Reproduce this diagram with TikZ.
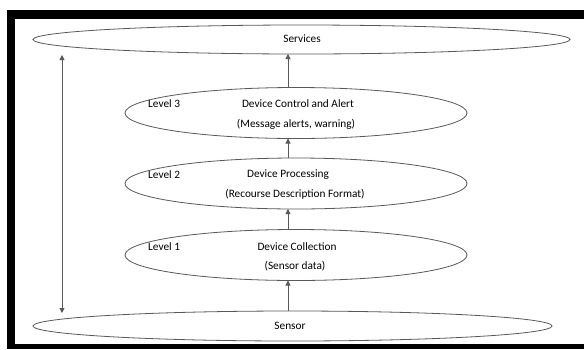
\documentclass[tikz,border=0pt]{standalone}
\usepackage{fontspec}
\setmainfont{Carlito}
\usetikzlibrary{shapes.geometric,arrows.meta}
\tikzset{
  lay/.style={draw=black!65, line width=0.8pt, ellipse, inner sep=0pt, outer sep=0pt},
  lvl/.style={lay, minimum width=342pt, minimum height=51pt},
  txt/.style={font=\fontsize{11.3}{13}\selectfont, inner sep=0pt, text=black},
  arr/.style={draw=black!65, line width=0.8pt, -{Triangle[length=5pt,width=5pt]}},
  darr/.style={draw=black!65, line width=0.8pt, {Triangle[length=5pt,width=5pt]}-{Triangle[length=5pt,width=5pt]}}
}
\begin{document}
\begin{tikzpicture}[x=1pt,y=-1pt]
\useasboundingbox (0,0) rectangle (584,349);
% frame
\fill[black] (7,10) rectangle (584,349);
\fill[white] (15,19) rectangle (584,344);
% ellipses
\node[lay, minimum width=537pt, minimum height=29pt] (svc) at (301.5,39.5) {};
\node[lay, minimum width=519pt, minimum height=30pt] (sen) at (292.5,326) {};
\node[lvl] (l3) at (296,113) {};
\node[lvl] (l2) at (296,183.5) {};
\node[lvl] (l1) at (296,255) {};
% texts
\node[txt] (tsvc) at (302,39) {Services};
\node[txt] (tsen) at (290,326) {Sensor};
\node[txt, anchor=west] (v3) at (148,104) {Level 3};
\node[txt] (h3) at (298,104) {Device Control and Alert};
\node[txt] (s3) at (296,124) {(Message alerts, warning)};
\node[txt, anchor=west] (v2) at (148,175) {Level 2};
\node[txt] (h2) at (288,175) {Device Processing};
\node[txt] (s2) at (295,194) {(Recourse Description Format)};
\node[txt, anchor=west] (v1) at (148,247) {Level 1};
\node[txt] (h1) at (297,247) {Device Collection};
\node[txt] (s1) at (295,266) {(Sensor data)};
% connectors
\coordinate (ax) at (288,0);
\draw[arr] (sen.north -| ax) -- (l1.south -| ax);
\draw[arr] (l1.north -| ax) -- (l2.south -| ax);
\draw[arr] (l2.north -| ax) -- (l3.south -| ax);
\draw[arr] (l3.north -| ax) -- (svc.south -| ax);
\coordinate (lt) at (62,55);
\coordinate (lb) at (62,313);
\draw[darr] (lt) -- (lb);
\end{tikzpicture}
\end{document}
